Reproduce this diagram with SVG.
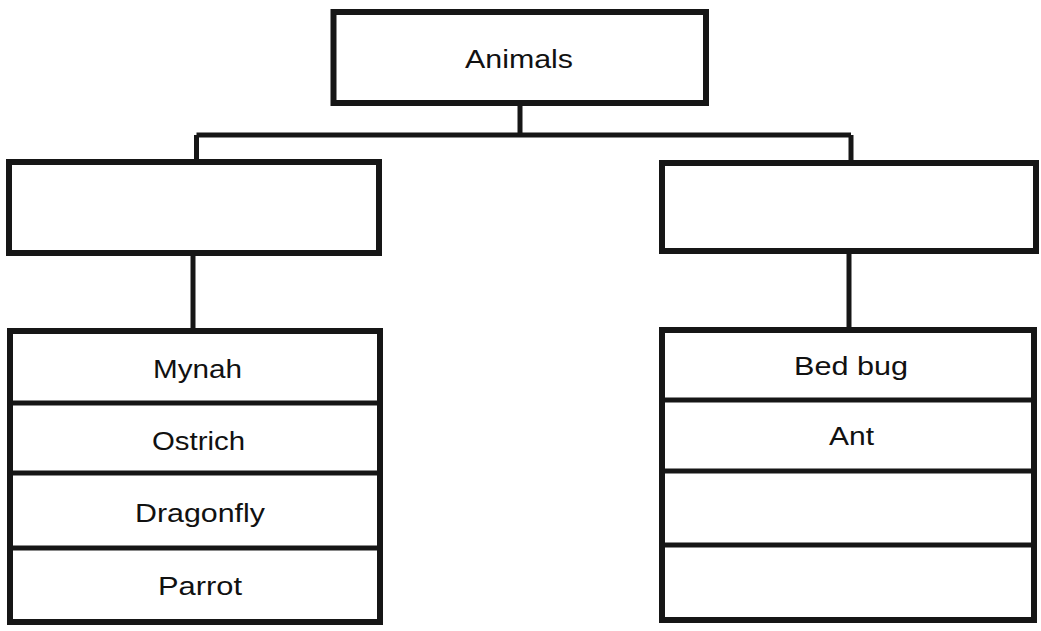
<svg xmlns="http://www.w3.org/2000/svg" width="1041" height="631" viewBox="0 0 1041 631">
<style>
.box{fill:#fff;stroke:#161616;stroke-width:6}
.div{stroke:#161616;stroke-width:5}
.con{fill:none;stroke:#161616;stroke-width:5}
.t{font-family:"Liberation Sans",Arial,sans-serif;font-size:25px;fill:#111;text-anchor:middle}
</style>
<rect width="1041" height="631" fill="#fff"/>
<g id="connectors">
<path class="con" d="M520,103 V135 M196.5,135 H851 M196.5,135 V162 M851,135 V163"/>
<path class="con" d="M193,253 V331"/>
<path class="con" d="M849,251 V330"/>
</g>
<g id="animals">
<rect class="box" x="333.5" y="12" width="372.5" height="91"/>
<text class="t" x="519" y="68" font-size="26" textLength="108" lengthAdjust="spacingAndGlyphs">Animals</text>
</g>
<g id="left-category">
<rect class="box" x="9" y="162" width="370" height="91"/>
</g>
<g id="right-category">
<rect class="box" x="662" y="163" width="374" height="88"/>
</g>
<g id="left-list">
<rect class="box" x="10" y="331" width="370" height="291"/>
<line class="div" x1="10" y1="403" x2="380" y2="403"/>
<line class="div" x1="10" y1="473" x2="380" y2="473"/>
<line class="div" x1="10" y1="548" x2="380" y2="548"/>
<text class="t" x="197.5" y="378" textLength="89" lengthAdjust="spacingAndGlyphs">Mynah</text>
<text class="t" x="198.5" y="450" textLength="93" lengthAdjust="spacingAndGlyphs">Ostrich</text>
<text class="t" x="200" y="522" textLength="130" lengthAdjust="spacingAndGlyphs">Dragonfly</text>
<text class="t" x="200" y="595" textLength="84" lengthAdjust="spacingAndGlyphs">Parrot</text>
</g>
<g id="right-list">
<rect class="box" x="662" y="330" width="372" height="290"/>
<line class="div" x1="662" y1="400" x2="1034" y2="400"/>
<line class="div" x1="662" y1="471" x2="1034" y2="471"/>
<line class="div" x1="662" y1="545" x2="1034" y2="545"/>
<text class="t" x="851" y="375" textLength="114" lengthAdjust="spacingAndGlyphs">Bed bug</text>
<text class="t" x="851.5" y="445" textLength="45" lengthAdjust="spacingAndGlyphs">Ant</text>
</g>
</svg>
